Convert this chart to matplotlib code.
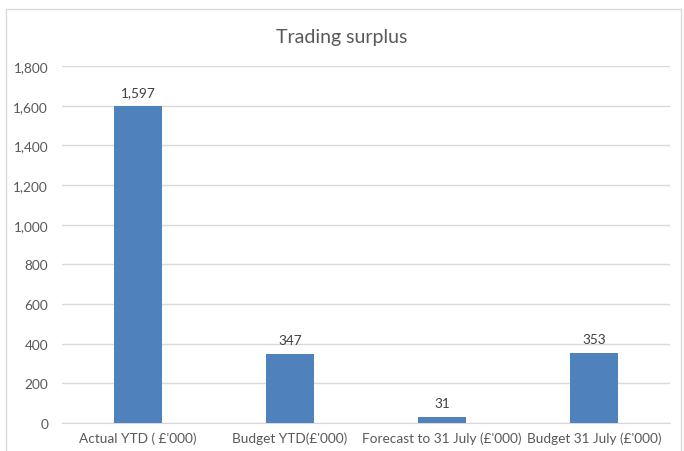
import matplotlib
matplotlib.use("Agg")
import matplotlib.pyplot as plt
from matplotlib.patches import Rectangle

categories = ["Actual YTD ( £'000)", "Budget YTD(£'000)", "Forecast to 31 July (£'000)", "Budget 31 July (£'000)"]
values = [1597, 347, 31, 353]
yticks = [0, 200, 400, 600, 800, 1000, 1200, 1400, 1600, 1800]

plt.rcParams['font.family'] = ['Lato', 'DejaVu Sans']
txt = '#595959'

fig = plt.figure(figsize=(6.84, 4.52), dpi=100)
fig.patch.set_facecolor('white')
fig.patches.append(Rectangle((6/684, -0.1), 675/684, 1.1 - 10/452, transform=fig.transFigure,
                             fill=False, edgecolor='#D9D9D9', linewidth=1))
ax = fig.add_axes([62/684, 1-424/452, 608/684, 357/452])
x = range(len(categories))
bars = ax.bar(x, values, width=0.316, color='#4F81BD', zorder=3)
ax.set_xlim(-0.5, len(categories) - 0.5)
ax.set_ylim(0, 1800)
ax.set_yticks(yticks)
ax.set_yticklabels([f"{v:,}" for v in yticks])
ax.set_xticks(list(x))
ax.set_xticklabels(categories)
ax.tick_params(axis='both', length=0, colors=txt, labelsize=9.8)
ax.tick_params(axis='y', pad=10)
ax.tick_params(axis='x', pad=6)
ax.grid(axis='y', color='#D9D9D9', linewidth=1, zorder=0)
for s in ['top', 'right', 'left']:
    ax.spines[s].set_visible(False)
ax.spines['bottom'].set_color('#D9D9D9')
for xi, v in zip(x, values):
    ax.annotate(f"{v:,}", (xi, v), xytext=(0, 6), textcoords='offset points',
                ha='center', va='bottom', color='#404040', fontsize=9.8)
fig.text(0.5, 1 - 37/452, "Trading surplus", ha='center', va='center', fontsize=14, color=txt)
fig.savefig("out.png", dpi=100)
